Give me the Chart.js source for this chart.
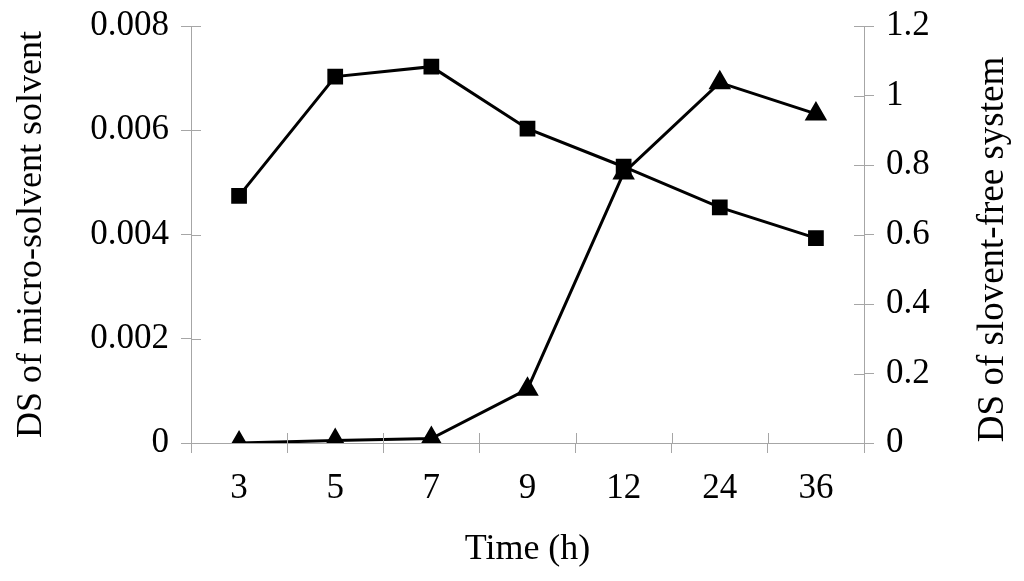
<!DOCTYPE html>
<html>
<head>
<meta charset="utf-8">
<script src="https://cdn.jsdelivr.net/npm/chart.js@4/dist/chart.umd.min.js"></script>
<style>
  html, body { margin: 0; padding: 0; background: #fff; }
  #wrap { width: 1024px; height: 581px; }
</style>
</head>
<body>
<div id="wrap"><canvas id="chart" width="1024" height="581"></canvas></div>
<script>
// 데이터
const times = ['3', '5', '7', '9', '12', '24', '36'];
const microSolvent = [0.00474, 0.00703, 0.00722, 0.00603, 0.00530, 0.00452, 0.00393];
const solventFree = [0.0, 0.007, 0.013, 0.155, 0.777, 1.037, 0.947];
const rightTitle = 'DS of slovent-free system';

const axisGray = '#a6a6a6';
const font = 'Liberation Serif, Times New Roman, serif';

// 축선 안쪽으로도 눈금을 그리고, 오른쪽 축 제목을 아래→위 방향으로 쓰는 플러그인
const innerTicks = {
  id: 'innerTicks',
  afterDraw(chart) {
    const { ctx, chartArea, scales } = chart;
    ctx.save();
    ctx.strokeStyle = axisGray;
    ctx.lineWidth = 1;
    ctx.beginPath();
    const x = scales.x;
    const step = x.getPixelForValue(1) - x.getPixelForValue(0);
    for (let i = 0; i <= times.length; i++) {
      const px = Math.round(x.getPixelForValue(0) - step / 2 + i * step) + 0.5;
      ctx.moveTo(px, chartArea.bottom);
      ctx.lineTo(px, chartArea.bottom - 10);
    }
    scales.y.ticks.forEach(t => {
      const py = Math.round(scales.y.getPixelForValue(t.value)) + 0.5;
      ctx.moveTo(chartArea.left, py);
      ctx.lineTo(chartArea.left + 10, py);
    });
    scales.y1.ticks.forEach(t => {
      const py = Math.round(scales.y1.getPixelForValue(t.value)) + 0.5;
      ctx.moveTo(chartArea.right, py);
      ctx.lineTo(chartArea.right - 10, py);
    });
    ctx.stroke();

    // 오른쪽 축 제목
    ctx.fillStyle = '#000';
    ctx.font = '37px ' + font;
    ctx.textAlign = 'center';
    ctx.textBaseline = 'middle';
    ctx.translate(scales.y1.right - 31, (chartArea.top + chartArea.bottom) / 2 + 15);
    ctx.rotate(-Math.PI / 2);
    ctx.fillText(rightTitle, 0, 0);
    ctx.restore();
  }
};

const fmt = v => String(parseFloat(Number(v).toFixed(4)));
const fitY = w => s => { s.width = w; s.paddingTop = 0; s.paddingBottom = 0; };

const ctx = document.getElementById('chart').getContext('2d');
new Chart(ctx, {
  type: 'line',
  data: {
    labels: times,
    datasets: [
      {
        label: 'DS of micro-solvent solvent',
        data: microSolvent,
        yAxisID: 'y',
        borderColor: '#000',
        backgroundColor: '#000',
        borderWidth: 3,
        pointStyle: 'rect',
        pointRadius: 9,
        pointHoverRadius: 9,
        tension: 0
      },
      {
        label: rightTitle,
        data: solventFree,
        yAxisID: 'y1',
        borderColor: '#000',
        backgroundColor: '#000',
        borderWidth: 3,
        pointStyle: 'triangle',
        pointRadius: 10,
        pointHoverRadius: 10,
        tension: 0
      }
    ]
  },
  plugins: [innerTicks],
  options: {
    responsive: false,
    animation: false,
    layout: { padding: { top: 26, left: 0, right: 0, bottom: 0 } },
    plugins: {
      legend: { display: false },
      tooltip: { enabled: false }
    },
    scales: {
      x: {
        offset: true,
        grid: { offset: true, drawOnChartArea: false, color: axisGray, tickLength: 10 },
        border: { color: axisGray },
        ticks: { color: '#000', font: { family: font, size: 35 }, padding: 15 },
        title: { display: true, text: 'Time (h)', color: '#000', font: { family: font, size: 36 }, padding: { top: 2, bottom: 10 } },
        afterFit(s) { s.height = 138; }
      },
      y: {
        position: 'left',
        min: 0,
        max: 0.008,
        ticks: { stepSize: 0.002, color: '#000', font: { family: font, size: 35 }, padding: 12, callback: fmt },
        grid: { drawOnChartArea: false, color: axisGray, tickLength: 10 },
        border: { color: axisGray },
        title: { display: true, text: 'DS of micro-solvent solvent', color: '#000', font: { family: font, size: 36 }, padding: { top: 10, bottom: 0 } },
        afterFit: fitY(191)
      },
      y1: {
        position: 'right',
        min: 0,
        max: 1.2,
        ticks: { stepSize: 0.2, color: '#000', font: { family: font, size: 35 }, padding: 12, callback: fmt },
        grid: { drawOnChartArea: false, color: axisGray, tickLength: 10 },
        border: { color: axisGray },
        title: { display: false },
        afterFit: fitY(160)
      }
    }
  }
});
</script>
</body>
</html>
